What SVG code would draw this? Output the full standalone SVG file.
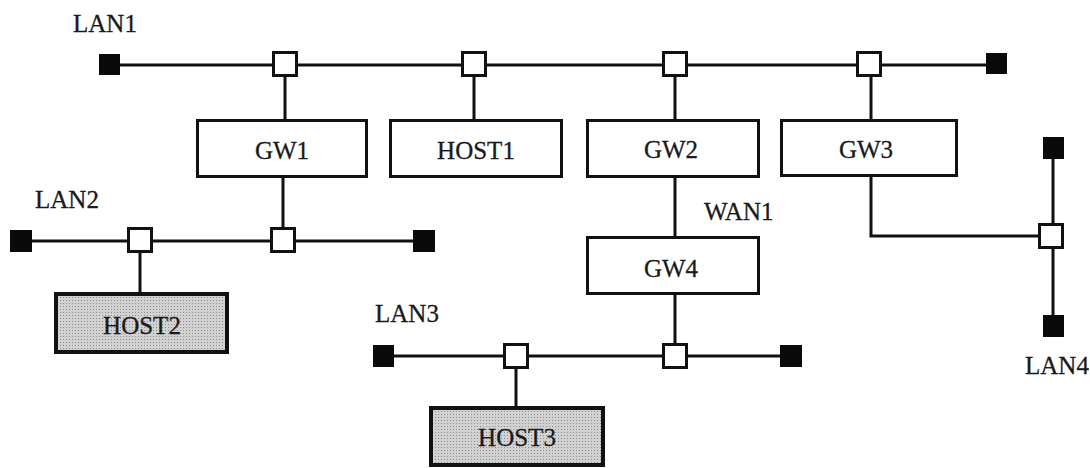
<svg xmlns="http://www.w3.org/2000/svg" width="1090" height="468" viewBox="0 0 1090 468">
<style>
.ln{stroke:#111;stroke-width:3;fill:none}
.box{fill:#fff;stroke:#111;stroke-width:3}
.host{fill:url(#dots);stroke:#111;stroke-width:4}
.tap{fill:#fff;stroke:#111;stroke-width:3}
.end{fill:#0a0a0a}
text{font-family:"Liberation Serif","Times New Roman",serif;font-size:25px;fill:#1a1a1a;stroke:#1a1a1a;stroke-width:0.3}
.c{text-anchor:middle}
</style>
<defs>
<pattern id="dots" width="3" height="3" patternUnits="userSpaceOnUse">
<rect width="3" height="3" fill="#d2d2d2"/>
<rect width="1" height="1" fill="#8c8c8c"/>
</pattern>
</defs>
<rect width="1090" height="468" fill="#fff"/>
<g id="connectors">
<line class="ln" x1="109" y1="65" x2="996" y2="65"/>
<line class="ln" x1="285" y1="65" x2="285" y2="120"/>
<line class="ln" x1="474" y1="65" x2="474" y2="120"/>
<line class="ln" x1="675" y1="65" x2="675" y2="120"/>
<line class="ln" x1="871" y1="65" x2="871" y2="120"/>
<line class="ln" x1="283" y1="177" x2="283" y2="241"/>
<line class="ln" x1="21" y1="241" x2="424" y2="241"/>
<line class="ln" x1="140" y1="241" x2="140" y2="293"/>
<line class="ln" x1="675" y1="177" x2="675" y2="237"/>
<line class="ln" x1="675" y1="294" x2="675" y2="356"/>
<line class="ln" x1="383" y1="356" x2="791" y2="356"/>
<line class="ln" x1="516" y1="356" x2="516" y2="407"/>
<polyline class="ln" points="871,176 871,236 1052,236"/>
<line class="ln" x1="1053" y1="148" x2="1053" y2="326"/>
</g>
<g id="LAN1">
<rect class="end" x="99" y="54" width="21" height="21"/>
<rect class="end" x="986" y="53" width="21" height="21"/>
<rect class="tap" x="273.5" y="52.5" width="23" height="23"/>
<rect class="tap" x="462.5" y="52.5" width="23" height="23"/>
<rect class="tap" x="663.5" y="52.5" width="23" height="23"/>
<rect class="tap" x="857.5" y="52.5" width="23" height="23"/>
<text x="73" y="32">LAN1</text>
</g>
<g id="LAN2">
<rect class="end" x="10" y="230" width="22" height="22"/>
<rect class="end" x="413" y="230" width="22" height="22"/>
<rect class="tap" x="128.5" y="228.5" width="23" height="23"/>
<rect class="tap" x="271.5" y="228.5" width="23" height="23"/>
<text x="35" y="208">LAN2</text>
</g>
<g id="LAN3">
<rect class="end" x="373" y="345" width="21" height="22"/>
<rect class="end" x="780" y="345" width="22" height="22"/>
<rect class="tap" x="504.5" y="344.5" width="23" height="23"/>
<rect class="tap" x="663.5" y="344.5" width="23" height="23"/>
<text x="375" y="322">LAN3</text>
</g>
<g id="LAN4">
<rect class="end" x="1043" y="137" width="21" height="22"/>
<rect class="end" x="1043" y="315" width="21" height="22"/>
<rect class="tap" x="1039.5" y="224.5" width="23" height="23"/>
<text x="1025" y="374">LAN4</text>
</g>
<g id="WAN1">
<text x="704" y="220">WAN1</text>
</g>
<g id="GW1">
<rect class="box" x="197.5" y="120.5" width="169" height="56"/>
<text class="c" x="282" y="159">GW1</text>
</g>
<g id="HOST1">
<rect class="box" x="390.5" y="120.5" width="171" height="56"/>
<text class="c" x="476" y="159">HOST1</text>
</g>
<g id="GW2">
<rect class="box" x="587.5" y="120.5" width="171" height="56"/>
<text class="c" x="671" y="158">GW2</text>
</g>
<g id="GW3">
<rect class="box" x="781.5" y="120.5" width="175" height="55"/>
<text class="c" x="866" y="158">GW3</text>
</g>
<g id="GW4">
<rect class="box" x="587.5" y="237.5" width="171" height="56"/>
<text class="c" x="671" y="277">GW4</text>
</g>
<g id="HOST2">
<rect class="host" x="56" y="294" width="171" height="58"/>
<text class="c" x="142" y="334">HOST2</text>
</g>
<g id="HOST3">
<rect class="host" x="431" y="408" width="172" height="57"/>
<text class="c" x="517" y="446">HOST3</text>
</g>
</svg>
